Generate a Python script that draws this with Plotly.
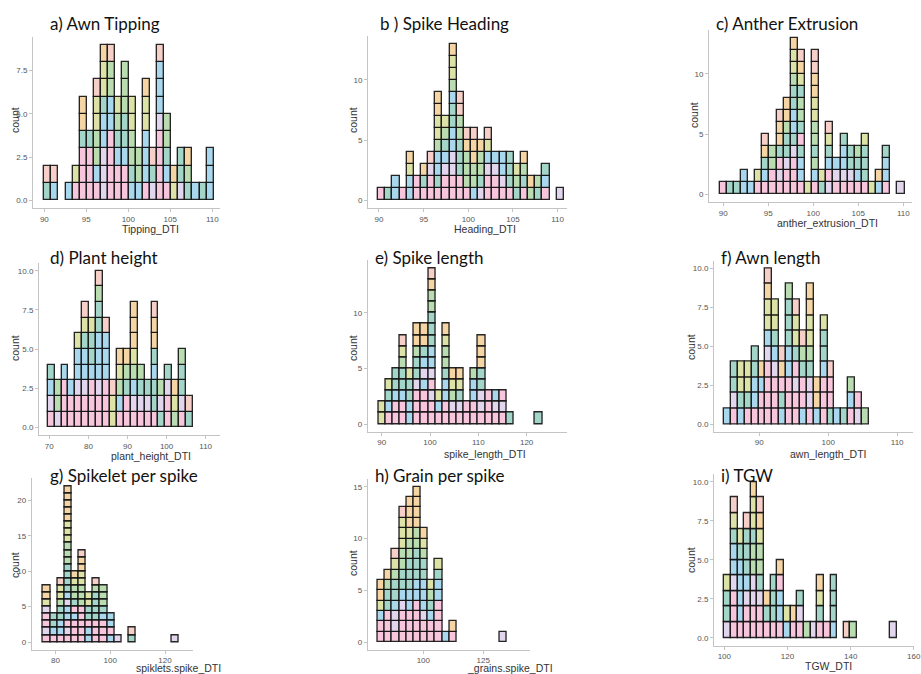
import plotly.graph_objects as go

W, H = 921, 674

# Fill colours for the genotype groups (pastel, ggplot-like with alpha)
PALETTE = {
    "p": "#F7C6DD",  # pink
    "l": "#E2D6EF",  # lavender
    "b": "#A9D8EE",  # blue
    "t": "#A3D6C8",  # teal
    "g": "#B9DDB0",  # green
    "y": "#DDE3A6",  # yellow-green
    "o": "#F6D5A5",  # orange
    "r": "#F7CFC9",  # salmon
}

# ---- data: each bin lists its genotypes' group codes, bottom to top ----
tipping_start, tipping_width = 90.0, 0.84
tipping_bins = ["tr", "br", "", "b", "py", "ppptoo", "pppt", "pbggyyr",
                "lllbbtyyo", "ppppbbggr", "ppbtgy", "ppbttggg", "btggyy",
                "bgg", "pbbbyyo", "ltr", "pppplbbbr", "pbtgg", "yo", "ltt",
                "tgo", "b", "t", "bbb"]

heading_start, heading_width = 89.9, 0.8
heading_bins = ["p", "t", "bb", "p", "bbyo", "pp", "pto", "pplr",
                "ptbbgyyoo", "pplbtgy", "ppllbbttbgyyo", "pptttggrr",
                "pgggor", "bggoor", "ltggo", "pplbyr", "pplb", "plbb",
                "pttt", "tgy", "ptgo", "go", "tg", "pbt", "", "l"]

anther_start, anther_width = 89.6, 0.79
anther_bins = ["p", "t", "t", "bb", "b", "py", "pbtor", "ppgg", "plptoor",
               "pplttgoo", "pppltbbttgyyo", "pbbtptggtyor", "y",
               "pbgtggyyoorr", "ty", "lpbtyr", "plb", "plbbt", "pltt",
               "pbtg", "pttty", "y", "bo", "pbbt", "", "l"]

height_start, height_width = 69.6, 1.77
height_bins = ["plbt", "lgg", "pppb", "ppb", "pplbby", "pplbbtyr", "pppbtty",
               "pplbbbttgr", "pppbbbr", "yyr", "pbgyo", "pptgo", "plbgyooo",
               "pltg", "plt", "pttbtoor", "tlg", "pplt", "gyo", "plttg", "tr"]

spike_len_start, spike_len_width = 89.3, 1.476
spike_len_bins = ["yy", "pbty", "ppbtt", "ppbttgyr", "bbtty", "ppplttgoo",
                  "pppblbtoo", "pplplbbtttggor", "pby", "ppbbtggyo", "plgyo",
                  "pltyo", "pp", "ppbbg", "pllttooo", "ppp", "plb", "plp", "t",
                  "", "", "", "t"]

awn_len_start, awn_len_width = 84.9, 1.0
awn_len_bins = ["b", "pltt", "btyy", "ptyy", "pbbtt", "ppbo", "pppplbyyor",
                "ppplbtyy", "btpor", "pppbbtttg", "pplptyyr", "bpptgr",
                "plltgyyoo", "boo", "pppbtty", "tppr", "b", "t", "pbg", "lp",
                "g"]

spikelet_start, spikelet_width = 75.5, 2.6
spikelet_bins = ["plpplyoo", "pbtt", "pbbttgyyr",
                 "plpbblbttttgggyyyooooo", "pppbptggyo", "pppppgggyyoor",
                 "bbpttyy", "pppttttgr", "pppbtggg", "bpbb", "l", "", "tr",
                 "", "", "", "", "", "l"]

grain_start, grain_width = 81.0, 2.99
grain_bins = ["ppbyoo", "pppttgo", "pllbttgyr", "ppplbttggyyyr",
              "pppbbtttggyooo", "ppppbbtttggoooo", "pplbbbttgyo", "ppbtgy",
              "ppppbbty", "b", "po", "", "", "", "", "", "", "l"]

tgw_start, tgw_width = 100.0, 2.1
tgw_bins = ["ltty", "ppplbbtyr", "pbbbbty", "pplbtttr", "ppllggtyyo",
            "ppltggyor", "pto", "pttt", "pbbpo", "by", "po", "plt", "g", "l",
            "ptyo", "p", "bttt", "", "r", "g", "", "", "", "", "", "l"]

# ---- panel layout (pixel boxes: left, right, top, bottom) ----
panels = [
    dict(title="a) Awn Tipping", xlab="Tipping_DTI", start=tipping_start,
         width=tipping_width, bins=tipping_bins, box=(33, 220, 37, 208),
         xr=(88.65, 110.92), yr=(-0.45, 9.45), xt=[90, 95, 100, 105, 110],
         yt=[0, 2.5, 5, 7.5], dec=True, t_xy=(48, 23), xl_xy=(150, 229),
         yl_xy=(15, 120)),
    dict(title="b ) Spike Heading", xlab="Heading_DTI", start=heading_start,
         width=heading_width, bins=heading_bins, box=(368, 567, 36, 208),
         xr=(88.77, 111.05), yr=(-0.65, 13.65), xt=[90, 95, 100, 105, 110],
         yt=[0, 5, 10], dec=False, t_xy=(378, 23), xl_xy=(485, 229),
         yl_xy=(353, 120)),
    dict(title="c) Anther Extrusion", xlab="anther_extrusion_DTI",
         start=anther_start, width=anther_width, bins=anther_bins,
         box=(709, 912, 30, 202), xr=(88.41, 110.97), yr=(-0.65, 13.65),
         xt=[90, 95, 100, 105, 110], yt=[0, 5, 10], dec=False,
         t_xy=(714, 23), xl_xy=(827, 223), yl_xy=(694, 115)),
    dict(title="d) Plant height", xlab="plant_height_DTI", start=height_start,
         width=height_width, bins=height_bins, box=(39, 220, 263, 435),
         xr=(67.37, 113.66), yr=(-0.5, 10.5), xt=[70, 80, 90, 100, 110],
         yt=[0, 2.5, 5, 7.5, 10], dec=True, t_xy=(48, 257),
         xl_xy=(151, 456), yl_xy=(15, 348)),
    dict(title="e) Spike length", xlab="spike_length_DTI",
         start=spike_len_start, width=spike_len_width, bins=spike_len_bins,
         box=(367.7, 566.7, 260.4, 431.8), xr=(87.1, 128.3), yr=(-0.7, 14.7),
         xt=[90, 100, 110, 120], yt=[0, 5, 10], dec=False, t_xy=(373, 257),
         xl_xy=(485, 454), yl_xy=(353, 348)),
    dict(title="f) Awn length", xlab="awn_length_DTI", start=awn_len_start,
         width=awn_len_width, bins=awn_len_bins, box=(714, 913, 260.5, 431.8),
         xr=(83.43, 112.3), yr=(-0.5, 10.5), xt=[90, 100, 110],
         yt=[0, 2.5, 5, 7.5, 10], dec=True, t_xy=(719, 257),
         xl_xy=(828, 454), yl_xy=(691, 347)),
    dict(title="g) Spikelet per spike", xlab="spiklets.spike_DTI",
         start=spikelet_start, width=spikelet_width, bins=spikelet_bins,
         box=(31.7, 193, 478.4, 649.8), xr=(71.35, 130.2), yr=(-1.1, 23.1),
         xt=[80, 100, 120], yt=[0, 5, 10, 15, 20], dec=False,
         t_xy=(48, 475), xl_xy=(178, 668), yl_xy=(15, 565)),
    dict(title="h) Grain per spike", xlab="_grains.spike_DTI",
         start=grain_start, width=grain_width, bins=grain_bins,
         box=(367.7, 530, 479, 649.8), xr=(76.8, 144.5), yr=(-0.75, 15.75),
         xt=[100, 125], yt=[0, 5, 10, 15], dec=False, t_xy=(373, 475),
         xl_xy=(510, 668), yl_xy=(353, 563)),
    dict(title="i) TGW", xlab="TGW_DTI", start=tgw_start, width=tgw_width,
         bins=tgw_bins, box=(714, 914, 474.2, 645.5), xr=(96.74, 160.02),
         yr=(-0.5, 10.5), xt=[100, 120, 140, 160], yt=[0, 2.5, 5, 7.5, 10],
         dec=True, t_xy=(719, 475), xl_xy=(828, 666), yl_xy=(691, 560),
         edge_label=160),
]

AXIS_GREY = "#c4c4c4"
TICK_FONT = dict(family="Liberation Sans, Arial, sans-serif", size=8,
                 color="#555555")
LABEL_FONT = dict(family="Liberation Sans, Arial, sans-serif", size=10.5,
                  color="#333333")
TITLE_FONT = dict(family="Lato, Noto Sans, sans-serif", size=17,
                  color="#111111")

fig = go.Figure()
annotations = []
layout_axes = {}

for i, p in enumerate(panels, start=1):
    xs, bases, cols = [], [], []
    for k, stack in enumerate(p["bins"]):
        centre = p["start"] + (k + 0.5) * p["width"]
        for level, code in enumerate(stack):
            xs.append(centre)
            bases.append(level)
            cols.append(PALETTE[code])
    sfx = "" if i == 1 else str(i)
    fig.add_trace(go.Bar(
        x=xs, y=[1] * len(xs), base=bases, width=p["width"],
        marker=dict(color=cols,
                    line=dict(color="rgba(15,15,15,0.9)", width=1.35)),
        xaxis="x" + sfx, yaxis="y" + sfx, showlegend=False,
        hoverinfo="skip"))

    left, right, top, bottom = p["box"]
    edge = p.get("edge_label")
    # a tick sitting on the figure's right edge gets its label as an annotation
    xtext = ["" if v == edge else str(v) for v in p["xt"]]
    layout_axes["xaxis" + sfx] = dict(
        domain=[left / W, right / W], range=list(p["xr"]),
        anchor="y" + sfx, showline=True, linecolor=AXIS_GREY, linewidth=1,
        ticks="outside", ticklen=3, tickcolor=AXIS_GREY, showgrid=False,
        zeroline=False, tickvals=p["xt"], ticktext=xtext,
        tickfont=TICK_FONT, fixedrange=True)
    ytext = [f"{v:.1f}" if p["dec"] else str(int(v)) for v in p["yt"]]
    layout_axes["yaxis" + sfx] = dict(
        domain=[1 - bottom / H, 1 - top / H], range=list(p["yr"]),
        anchor="x" + sfx, showline=True, linecolor=AXIS_GREY, linewidth=1,
        ticks="outside", ticklen=3, tickcolor=AXIS_GREY, showgrid=False,
        zeroline=False, tickvals=p["yt"], ticktext=ytext,
        tickfont=TICK_FONT, fixedrange=True)
    if edge is not None:
        annotations.append(dict(text=str(edge), x=edge, xref="x" + sfx,
                                y=1 - (bottom + 4) / H, yref="paper",
                                xanchor="center", yanchor="top",
                                showarrow=False, font=TICK_FONT))

    tx, ty = p["t_xy"]
    annotations.append(dict(text=p["title"], x=tx / W, y=1 - ty / H,
                            xref="paper", yref="paper", xanchor="left",
                            yanchor="middle", showarrow=False,
                            font=TITLE_FONT))
    lx, ly = p["xl_xy"]
    annotations.append(dict(text=p["xlab"], x=lx / W, y=1 - ly / H,
                            xref="paper", yref="paper", xanchor="center",
                            yanchor="middle", showarrow=False,
                            font=LABEL_FONT))
    cx, cy = p["yl_xy"]
    annotations.append(dict(text="count", x=cx / W, y=1 - cy / H,
                            xref="paper", yref="paper", xanchor="center",
                            yanchor="middle", showarrow=False, textangle=-90,
                            font=LABEL_FONT))

fig.update_layout(
    width=W, height=H, margin=dict(l=0, r=0, t=0, b=0),
    paper_bgcolor="white", plot_bgcolor="white", barmode="overlay",
    bargap=0, annotations=annotations, **layout_axes)

fig.write_html("out.html", config={"displayModeBar": False})
